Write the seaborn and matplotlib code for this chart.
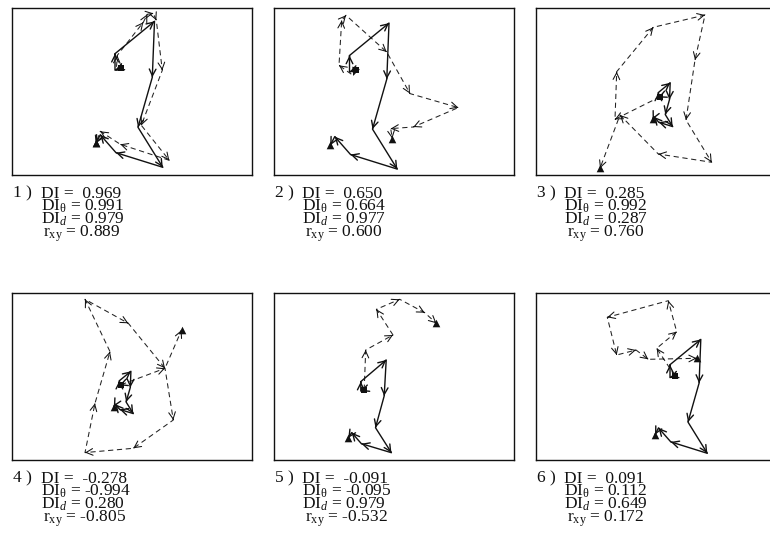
import math
import matplotlib
matplotlib.use("Agg")
import matplotlib.pyplot as plt
import pandas as pd
import seaborn as sns

sns.set_theme(style="white")
plt.rcParams["font.family"] = ["Liberation Serif", "DejaVu Serif"]
plt.rcParams["mathtext.fontset"] = "custom"
plt.rcParams["mathtext.rm"] = "Liberation Serif"
plt.rcParams["mathtext.it"] = "Liberation Serif:italic"

# Track coordinates in panel units (x to the right, y downward).
# "a" = solid track, "b" = dashed track; first point = square, last = triangle.
a1_x = [108.7, 102.7, 102.7, 142.2, 140.0, 125.7, 150.5, 103.7, 88.0, 83.4]
a1_y = [59.5, 61.9, 45.4, 13.0, 69.0, 119.0, 159.0, 144.4, 126.5, 135.2]
b1_x = [108.7, 104.0, 105.0, 131.0, 135.0, 141.0, 144.0, 150.0, 129.0, 157.0, 108.0, 88.0, 83.4]
b1_y = [59.5, 62.0, 47.0, 14.0, 6.0, 5.0, 12.0, 62.0, 117.0, 152.0, 136.0, 123.0, 135.2]

a2_x = [81.5, 75.5, 75.5, 115.0, 112.8, 98.5, 123.3, 76.5, 60.8, 56.2]
a2_y = [61.3, 63.7, 47.2, 14.8, 70.8, 120.8, 160.8, 146.2, 128.3, 137.0]
b2_x = [81.5, 79.3, 65.0, 67.7, 72.0, 112.7, 136.0, 184.3, 139.3, 116.7, 118.3]
b2_y = [61.3, 67.3, 57.0, 12.0, 7.0, 43.7, 85.3, 99.3, 118.7, 120.3, 130.3]

a3_x = [124.2, 122.4, 122.4, 134.2, 133.5, 129.3, 136.7, 122.7, 117.9, 116.6]
a3_y = [88.4, 89.2, 84.2, 74.5, 91.3, 106.3, 118.3, 113.9, 108.5, 111.2]
b3_x = [124.2, 79.0, 80.7, 117.3, 169.0, 159.0, 150.0, 175.7, 122.3, 84.0, 64.0]
b3_y = [88.4, 111.0, 63.4, 19.0, 6.7, 51.7, 111.7, 154.0, 145.7, 106.7, 160.0]

a4_x = [108.9, 107.1, 107.1, 118.6, 118.0, 113.8, 121.0, 107.4, 102.9, 101.5]
a4_y = [91.4, 92.1, 87.4, 78.0, 94.2, 108.7, 120.3, 116.1, 110.9, 113.4]
b4_x = [108.9, 152.7, 161.0, 121.0, 72.7, 82.7, 97.7, 72.7, 116.0, 152.7, 169.3]
b4_y = [91.4, 75.0, 126.7, 155.0, 159.3, 110.0, 58.3, 6.0, 30.0, 75.0, 36.7]

a5_x = [90.2, 86.8, 86.8, 112.2, 110.2, 101.5, 117.4, 87.4, 77.7, 74.3]
a5_y = [96.5, 97.8, 88.3, 66.7, 102.6, 134.4, 159.4, 150.4, 139.3, 144.6]
b5_x = [90.2, 91.7, 119.0, 102.4, 125.7, 150.7, 162.4]
b5_y = [96.5, 56.7, 41.7, 16.0, 6.0, 19.4, 30.0]

a6_x = [138.7, 134.0, 134.0, 164.8, 163.1, 152.0, 171.3, 134.8, 122.5, 119.0]
a6_y = [82.4, 84.3, 71.4, 46.1, 89.8, 128.8, 160.0, 148.6, 134.6, 141.4]
b6_x = [138.7, 120.7, 140.7, 132.3, 71.3, 80.7, 100.0, 112.3, 160.7]
b6_y = [82.4, 55.0, 38.4, 7.4, 24.0, 61.7, 56.7, 66.0, 65.0]

# Interaction indices printed under each panel
di = [0.969, 0.650, 0.285, -0.278, -0.091, 0.091]
di_theta = [0.991, 0.664, 0.992, -0.994, -0.095, 0.112]
di_d = [0.979, 0.977, 0.287, 0.280, 0.979, 0.649]
r_xy = [0.889, 0.600, 0.760, -0.805, -0.532, 0.172]

tracks = [
    (a1_x, a1_y, b1_x, b1_y), (a2_x, a2_y, b2_x, b2_y), (a3_x, a3_y, b3_x, b3_y),
    (a4_x, a4_y, b4_x, b4_y), (a5_x, a5_y, b5_x, b5_y), (a6_x, a6_y, b6_x, b6_y),
]

FW, FH = 770, 540
PW, PH = 239.5, 166.5
col_left = [12.3, 274.0, 536.0]
row_top = [8.3, 293.3]

INK = "#111111"
DASH = (0, (5.0, 3.5))

fig = plt.figure(figsize=(FW / 100, FH / 100), dpi=100)


def arrowheads(ax, xs, ys, lw):
    for x0, y0, x1, y1 in zip(xs[:-1], ys[:-1], xs[1:], ys[1:]):
        dx, dy = x1 - x0, y1 - y0
        length = math.hypot(dx, dy)
        if length < 1e-6:
            continue
        ux, uy = dx / length, dy / length
        ax.annotate(
            "", xy=(x1, y1), xytext=(x1 - ux * 0.6, y1 - uy * 0.6),
            arrowprops=dict(arrowstyle="->,head_length=0.6,head_width=0.3",
                            color=INK, lw=lw, shrinkA=0, shrinkB=0,
                            mutation_scale=8),
        )


for k, (ax_, ay_, bx_, by_) in enumerate(tracks):
    r, c = divmod(k, 3)
    left, top = col_left[c], row_top[r]
    ax = fig.add_axes([left / FW, 1 - (top + PH) / FH, PW / FW, PH / FH])
    ax.set_xlim(0, PW)
    ax.set_ylim(PH, 0)

    solid = pd.DataFrame({"x": ax_, "y": ay_})
    dashed = pd.DataFrame({"x": bx_, "y": by_})
    sns.lineplot(data=dashed, x="x", y="y", sort=False, estimator=None, ax=ax,
                 color="#222222", lw=0.75, linestyle=DASH)
    sns.lineplot(data=solid, x="x", y="y", sort=False, estimator=None, ax=ax,
                 color=INK, lw=1.0)
    arrowheads(ax, bx_, by_, 0.75)
    arrowheads(ax, ax_, ay_, 1.0)

    starts = pd.DataFrame({"x": [ax_[0], bx_[0]], "y": [ay_[0], by_[0]]})
    ends = pd.DataFrame({"x": [ax_[-1], bx_[-1]], "y": [ay_[-1], by_[-1]]})
    sns.scatterplot(data=starts, x="x", y="y", marker="s", s=22, color=INK,
                    edgecolor=INK, linewidth=0, ax=ax, zorder=5)
    sns.scatterplot(data=ends, x="x", y="y", marker="^", s=30, color=INK,
                    edgecolor=INK, linewidth=0, ax=ax, zorder=5)

    ax.set_xticks([])
    ax.set_yticks([])
    ax.set_xlabel("")
    ax.set_ylabel("")
    for sp in ax.spines.values():
        sp.set_visible(True)
        sp.set_color(INK)
        sp.set_linewidth(1.0)

    # statistics block under the panel
    base = top + PH + 23.0
    tx = left + 28.5
    fs = 12.5
    fig.text((left + 1.0) / FW, 1 - base / FH, f"{k + 1} )", fontsize=fs,
             va="baseline", ha="left", color=INK)
    lines = [
        f"DI =  {di[k]:.3f}",
        r"DI$_{\mathrm{θ}}$" + f" = {di_theta[k]:.3f}",
        r"DI$_{d}$" + f" = {di_d[k]:.3f}",
        r"r$_{\mathrm{xy}}$" + f" = {r_xy[k]:.3f}",
    ]
    for i, s in enumerate(lines):
        xoff = 2.5 if i == 3 else 0.0
        fig.text((tx + xoff) / FW, 1 - (base + 13.0 * i) / FH, s, fontsize=fs,
                 va="baseline", ha="left", color=INK)

fig.savefig("out.png", dpi=100)
